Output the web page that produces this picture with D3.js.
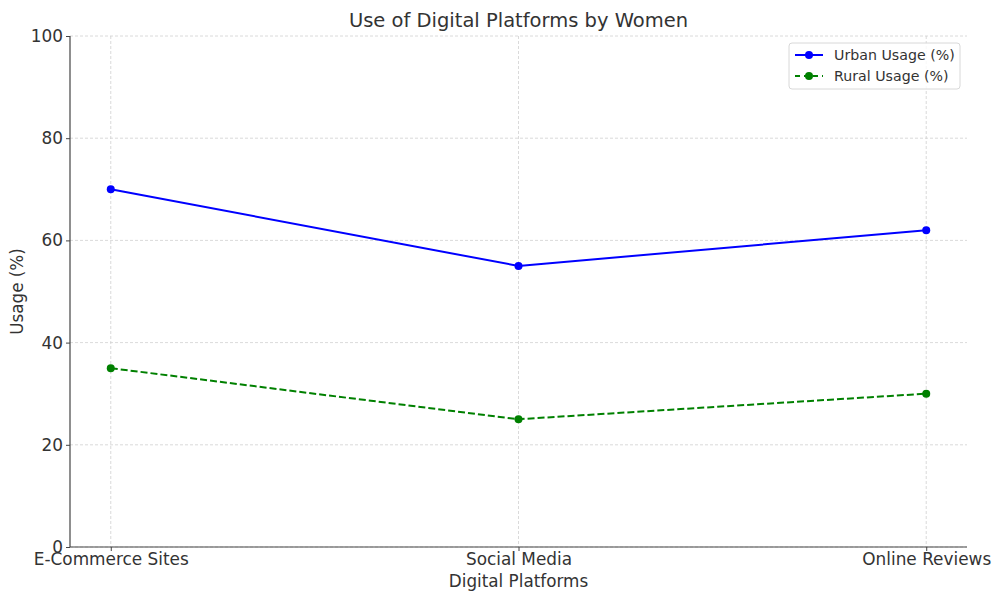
<!DOCTYPE html>
<html><head><meta charset="utf-8">
<script src="https://cdn.jsdelivr.net/npm/d3@7"></script>
<style>body{margin:0;background:#fff;font-family:"DejaVu Sans",sans-serif;}</style>
</head><body><svg id="c" width="993" height="595"></svg>
<script>
const categories = ["E-Commerce Sites", "Social Media", "Online Reviews"];
const urbanValues = [70, 55, 62];
const ruralValues = [35, 25, 30];
const yTicks = [0, 20, 40, 60, 80, 100];
const seriesNames = ["Urban Usage (%)", "Rural Usage (%)"];

const svg = d3.select("#c");
const L = 70, R = 967, T = 36, B = 547;
const x = d3.scaleLinear().domain([-0.1, 2.1]).range([L, R]);
const y = d3.scaleLinear().domain([0, 100]).range([B, T]);
const txt = "#333";

// grid
const g = svg.append("g");
g.selectAll(".gx").data(categories).enter().append("line")
  .attr("x1", (d,i)=>x(i)).attr("x2",(d,i)=>x(i)).attr("y1",T).attr("y2",B)
  .attr("stroke","#d0d0d0").attr("stroke-width",0.8).attr("stroke-dasharray","3,2");
g.selectAll(".gy").data(yTicks).enter().append("line")
  .attr("x1",L).attr("x2",R).attr("y1",d=>y(d)).attr("y2",d=>y(d))
  .attr("stroke","#d0d0d0").attr("stroke-width",0.8).attr("stroke-dasharray","3,2");

// axes
const xAxis = d3.axisBottom(x).tickValues([0,1,2]).tickFormat(i=>categories[i]).tickSize(4).tickPadding(2);
const yAxis = d3.axisLeft(y).tickValues(yTicks).tickSize(4).tickPadding(3);
const ax = svg.append("g").attr("transform",`translate(0,${B})`).call(xAxis);
const ay = svg.append("g").attr("transform",`translate(${L},0)`).call(yAxis);
[ax, ay].forEach(a=>{
  a.select(".domain").attr("stroke","#444").attr("stroke-width",1.2);
  a.selectAll(".tick line").attr("stroke","#444");
  a.selectAll("text").attr("fill",txt).style("font-family","DejaVu Sans").style("font-size","16.9px");
});
ax.select(".domain").attr("d",`M${L},0H${R}`);
ay.select(".domain").attr("d",`M0,${B}V${T}`);

// lines
const line = d3.line().x((d,i)=>x(i)).y(d=>y(d));
const series = [
  {name: seriesNames[0], values: urbanValues, color:"#0000ff", dash:null},
  {name: seriesNames[1], values: ruralValues, color:"#008000", dash:"7,3"}
];
series.forEach(s=>{
  svg.append("path").datum(s.values).attr("d",line).attr("fill","none")
    .attr("stroke",s.color).attr("stroke-width",2).attr("stroke-dasharray",s.dash);
  svg.selectAll(null).data(s.values).enter().append("circle")
    .attr("cx",(d,i)=>x(i)).attr("cy",d=>y(d)).attr("r",4).attr("fill",s.color);
});

// title & labels
svg.append("text").attr("x",(L+R)/2).attr("y",27).attr("text-anchor","middle")
  .attr("fill",txt).style("font-size","19.5px").text("Use of Digital Platforms by Women");
svg.append("text").attr("x",(L+R)/2).attr("y",587).attr("text-anchor","middle")
  .attr("fill",txt).style("font-size","16.8px").text("Digital Platforms");
svg.append("text").attr("transform",`translate(23,${(T+B)/2}) rotate(-90)`).attr("text-anchor","middle")
  .attr("fill",txt).style("font-size","16.8px").text("Usage (%)");

// legend
const lg = svg.append("g");
lg.append("rect").attr("x",789).attr("y",43).attr("width",171).attr("height",46).attr("rx",3)
  .attr("fill","#fff").attr("fill-opacity",0.8).attr("stroke","#d8d8d8");
series.forEach((s,i)=>{
  const yy = 55 + i*21;
  lg.append("line").attr("x1",795).attr("x2",823).attr("y1",yy).attr("y2",yy)
    .attr("stroke",s.color).attr("stroke-width",2).attr("stroke-dasharray",s.dash ? "5,4" : null);
  lg.append("circle").attr("cx",809).attr("cy",yy).attr("r",4).attr("fill",s.color);
  lg.append("text").attr("x",834).attr("y",yy+5).attr("fill",txt).style("font-size","14.2px").text(s.name);
});
</script></body></html>
